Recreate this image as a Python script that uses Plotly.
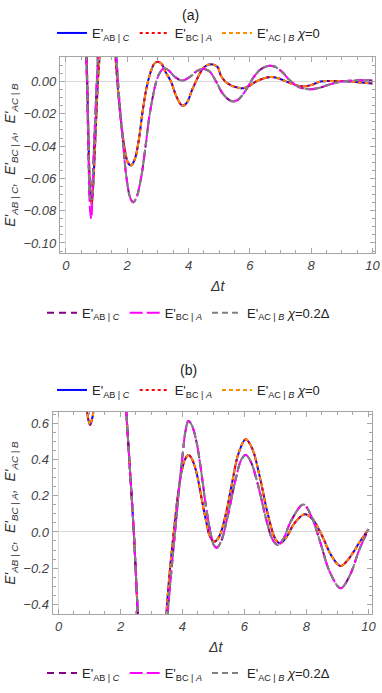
import plotly.graph_objects as go

# ---------------- panel (a) data ----------------
ta_chi0 = [0.55, 0.62, 0.68, 0.72, 0.76, 0.80, 0.84, 0.88, 0.94, 1.00, 1.06, 1.12, 1.20, 1.40,
           1.55, 1.62, 1.70, 1.80, 1.92, 2.02, 2.12, 2.25, 2.38, 2.50, 2.62, 2.75, 2.88, 3.00,
           3.12, 3.25, 3.43, 3.60, 3.80, 3.95, 4.10, 4.24, 4.40, 4.55, 4.75, 4.95, 5.05, 5.20,
           5.40, 5.60, 5.80, 6.00, 6.20, 6.45, 6.70, 6.95, 7.20, 7.50, 7.75, 8.00, 8.30, 8.60,
           8.90, 9.30, 9.65, 10.0]
Ea_chi0 = [0.06, 0.035, 0.012, -0.02, -0.052, -0.072, -0.076, -0.068, -0.045, -0.018, 0.005, 0.02, 0.04, 0.06,
           0.035, 0.015, -0.005, -0.025, -0.042, -0.050, -0.052, -0.048, -0.036, -0.019, -0.005, 0.005, 0.011, 0.0123,
           0.011, 0.006, 0.0, -0.009, -0.015, -0.013, -0.006, 0.0, 0.006, 0.0095, 0.0107, 0.009, 0.004, 0.0,
           -0.0025, -0.0037, -0.0041, -0.0025, 0.0, 0.0019, 0.0029, 0.0019, 0.0, -0.0022, -0.0031, -0.0022, 0.0, 0.0003,
           0.0004, 0.0, -0.0006, -0.0012]

ta_chi02 = [0.55, 0.62, 0.67, 0.71, 0.75, 0.79, 0.83, 0.87, 0.93, 0.99, 1.04, 1.10, 1.40,
            1.58, 1.65, 1.73, 1.85, 1.98, 2.10, 2.20, 2.30, 2.45, 2.60, 2.72, 2.85, 2.95, 3.05,
            3.20, 3.35, 3.55, 3.80, 4.05, 4.30, 4.50, 4.70, 4.90, 5.10, 5.30, 5.45, 5.60, 5.85,
            6.10, 6.35, 6.60, 6.80, 7.05, 7.35, 7.65, 7.95, 8.25, 8.60, 9.00, 9.40, 9.70, 10.0]
Ea_chi02 = [0.06, 0.035, 0.012, -0.02, -0.055, -0.072, -0.073, -0.062, -0.035, -0.008, 0.012, 0.03, 0.06,
            0.035, 0.015, -0.008, -0.035, -0.060, -0.072, -0.0748, -0.072, -0.060, -0.040, -0.022, -0.008, 0.0, 0.005,
            0.0083, 0.007, 0.003, 0.0006, 0.003, 0.0068, 0.0078, 0.006, 0.0, -0.007, -0.011, -0.0123, -0.0115, -0.006,
            0.002, 0.0075, 0.0097, 0.0093, 0.006, 0.0, -0.0038, -0.0047, -0.004, -0.0018, 0.0, 0.0007, 0.0008, 0.0007]
Ea_chi02_BCA = [0.06, 0.035, 0.012, -0.02, -0.058, -0.080, -0.085, -0.066, -0.035, -0.008, 0.012, 0.03, 0.06,
                0.035, 0.015, -0.008, -0.035, -0.060, -0.072, -0.0748, -0.072, -0.060, -0.040, -0.022, -0.008, 0.0, 0.005,
                0.0083, 0.007, 0.003, 0.0006, 0.003, 0.0068, 0.0078, 0.006, 0.0, -0.007, -0.011, -0.0123, -0.0115, -0.006,
                0.002, 0.0075, 0.0097, 0.0093, 0.006, 0.0, -0.0038, -0.0047, -0.004, -0.0018, 0.0, 0.0007, 0.0008, 0.0007]

# ---------------- panel (b) data ----------------
tb_chi0 = [0.80, 0.86, 0.92, 0.97, 1.02, 1.07, 1.13, 1.19, 1.40, 1.70, 2.00, 2.12, 2.19, 2.31, 2.43, 2.56,
           2.70, 3.00, 3.30, 3.40, 3.48, 3.60, 3.72, 3.85, 3.98, 4.08, 4.19, 4.30, 4.45, 4.60, 4.75,
           4.90, 5.04, 5.20, 5.40, 5.60, 5.80, 6.04, 6.25, 6.50, 6.75, 7.00, 7.15, 7.35, 7.60, 7.94,
           8.20, 8.50, 8.80, 9.10, 9.40, 9.70, 10.0]
Eb_chi0 = [1.00, 0.80, 0.668, 0.615, 0.591, 0.615, 0.668, 0.80, 1.20, 1.40, 1.20, 0.90, 0.661, 0.33, 0.0, -0.458,
           -0.90, -1.40, -1.00, -0.75, -0.458, -0.20, 0.0, 0.20, 0.34, 0.40, 0.425, 0.405, 0.33, 0.20, 0.07,
           -0.03, -0.053, -0.02, 0.10, 0.27, 0.43, 0.512, 0.46, 0.30, 0.10, -0.04, -0.062, -0.03, 0.045, 0.098,
           0.07, -0.02, -0.13, -0.188, -0.14, -0.06, 0.015]

tb_chi02 = [0.80, 0.92, 1.02, 1.13, 1.25, 1.50, 1.80, 2.00, 2.12, 2.19, 2.31, 2.43, 2.56,
            2.70, 3.00, 3.30, 3.42, 3.52, 3.65, 3.76, 3.88, 4.00, 4.10, 4.19, 4.30, 4.45, 4.60, 4.75,
            4.90, 5.00, 5.11, 5.25, 5.45, 5.70, 5.90, 6.04, 6.20, 6.45, 6.70, 6.90, 7.07, 7.25, 7.50,
            7.90, 8.15, 8.45, 8.75, 9.10, 9.40, 9.70, 10.0]
Eb_chi02 = [1.00, 0.80, 0.74, 0.80, 1.00, 1.30, 1.40, 1.20, 0.90, 0.661, 0.33, 0.0, -0.458,
            -0.90, -1.40, -1.00, -0.75, -0.458, -0.20, 0.0, 0.22, 0.42, 0.56, 0.613, 0.59, 0.50, 0.34, 0.15,
            0.0, -0.07, -0.087, -0.05, 0.08, 0.28, 0.40, 0.425, 0.39, 0.25, 0.07, -0.04, -0.072, -0.04, 0.06,
            0.152, 0.09, -0.06, -0.22, -0.311, -0.24, -0.10, 0.015]

# ---------------- labels ----------------
name_ABC = "E'<sub>AB | <i>C</i></sub>"
name_BCA = "E'<sub>BC | <i>A</i></sub>"
name_ACB_0 = "E'<sub>AC | <i>B</i></sub> <i>χ</i>=0"
name_ACB_02 = "E'<sub>AC | <i>B</i></sub> <i>χ</i>=0.2Δ"
ytitle = "<i>E'<sub>AB | C</sub>,  E'<sub>BC | A</sub>,  E'<sub>AC | B</sub></i>"

W, H = 382, 693
fig = go.Figure()

def add(t, e, name, color, dash, xa, ya, leg):
    fig.add_trace(go.Scatter(x=t, y=e, name=name, mode="lines", line_shape="spline",
                             line=dict(color=color, width=2, dash=dash),
                             xaxis=xa, yaxis=ya, legend=leg, cliponaxis=True))

# panel (a)
add(ta_chi0, Ea_chi0, name_ABC, "#0000ff", "solid", "x", "y", "legend")
add(ta_chi0, Ea_chi0, name_BCA, "#ff0000", "dot", "x", "y", "legend")
add(ta_chi0, Ea_chi0, name_ACB_0, "#ff8c00", "4px,3px", "x", "y", "legend")
add(ta_chi02, Ea_chi02, name_ABC, "#800080", "7px,5px", "x", "y", "legend2")
add(ta_chi02, Ea_chi02_BCA, name_BCA, "#ff00ff", "13px,4px", "x", "y", "legend2")
add(ta_chi02, Ea_chi02, name_ACB_02, "#808080", "6px,4px", "x", "y", "legend2")
# panel (b)
add(tb_chi0, Eb_chi0, name_ABC, "#0000ff", "solid", "x2", "y2", "legend3")
add(tb_chi0, Eb_chi0, name_BCA, "#ff0000", "dot", "x2", "y2", "legend3")
add(tb_chi0, Eb_chi0, name_ACB_0, "#ff8c00", "4px,3px", "x2", "y2", "legend3")
add(tb_chi02, Eb_chi02, name_ABC, "#800080", "7px,5px", "x2", "y2", "legend4")
add(tb_chi02, Eb_chi02, name_BCA, "#ff00ff", "13px,4px", "x2", "y2", "legend4")
add(tb_chi02, Eb_chi02, name_ACB_02, "#808080", "6px,4px", "x2", "y2", "legend4")

frame = "#a6a6a6"
tickfont = dict(family="Liberation Sans, Arial", size=13, color="#444444", style="italic")

def xaxis(domain, rng, anchor):
    return dict(domain=domain, range=rng, anchor=anchor, showgrid=False,
                zeroline=True, zerolinecolor="#d9d9d9", zerolinewidth=1,
                showline=True, linecolor=frame, linewidth=1, mirror="allticks",
                ticks="inside", ticklen=5, tickcolor=frame, tick0=0, dtick=2,
                minor=dict(ticks="inside", ticklen=3, dtick=0.5, tickcolor=frame),
                tickfont=tickfont, fixedrange=True)

def yaxis(domain, rng, anchor, dtick, mdtick, fmt):
    return dict(domain=domain, range=rng, anchor=anchor, showgrid=False,
                zeroline=True, zerolinecolor="#d9d9d9", zerolinewidth=1,
                showline=True, linecolor=frame, linewidth=1, mirror="allticks",
                ticks="inside", ticklen=5, tickcolor=frame, tick0=0, dtick=dtick,
                minor=dict(ticks="inside", ticklen=3, dtick=mdtick, tickcolor=frame),
                tickformat=fmt, tickfont=tickfont, fixedrange=True)

def px(x):
    return x / W

def py(y):
    return 1 - y / H

legfont = dict(family="Liberation Sans, Arial", size=13, color="#222222")

def legend(y):
    return dict(orientation="h", x=0.5, xanchor="center", y=y, yanchor="middle",
                bgcolor="rgba(0,0,0,0)", font=legfont, itemwidth=30, tracegroupgap=0)

def ann(text, x, y, size=14, angle=0, color="#222222"):
    return dict(text=text, x=px(x), y=py(y), xref="paper", yref="paper", showarrow=False,
                xanchor="center", yanchor="middle", textangle=angle,
                font=dict(family="Liberation Sans, Arial", size=size, color=color))

fig.update_layout(
    width=W, height=H, margin=dict(l=0, r=0, t=0, b=0),
    paper_bgcolor="white", plot_bgcolor="white", showlegend=True,
    xaxis=xaxis([px(60.7), px(379.5)], [-0.195, 10.07], "y"),
    yaxis=yaxis([py(253.3), py(56.7)], [-0.1064, 0.0154], "x", 0.02, 0.005, ".2f"),
    xaxis2=xaxis([px(53.3), px(376.5)], [-0.19, 10.1], "y2"),
    yaxis2=yaxis([py(614.3), py(412.3)], [-0.455, 0.661], "x2", 0.2, 0.05, ".1f"),
    legend=legend(py(33)),
    legend2=legend(py(312.7)),
    legend3=legend(py(390)),
    legend4=legend(py(673)),
    annotations=[
        ann("(a)", 193, 14.7),
        ann("(b)", 190.7, 370),
        ann("<i>Δt</i>", 220, 285.7, color="#333333"),
        ann("<i>Δt</i>", 218, 646.7, color="#333333"),
        ann(ytitle, 11, 155, angle=-90, color="#333333"),
        ann(ytitle, 11, 513, angle=-90, color="#333333"),
    ],
)

fig.write_html("out.html", config={"displayModeBar": False},
               post_script="document.body.style.margin='0px';document.body.style.overflow='hidden';")
